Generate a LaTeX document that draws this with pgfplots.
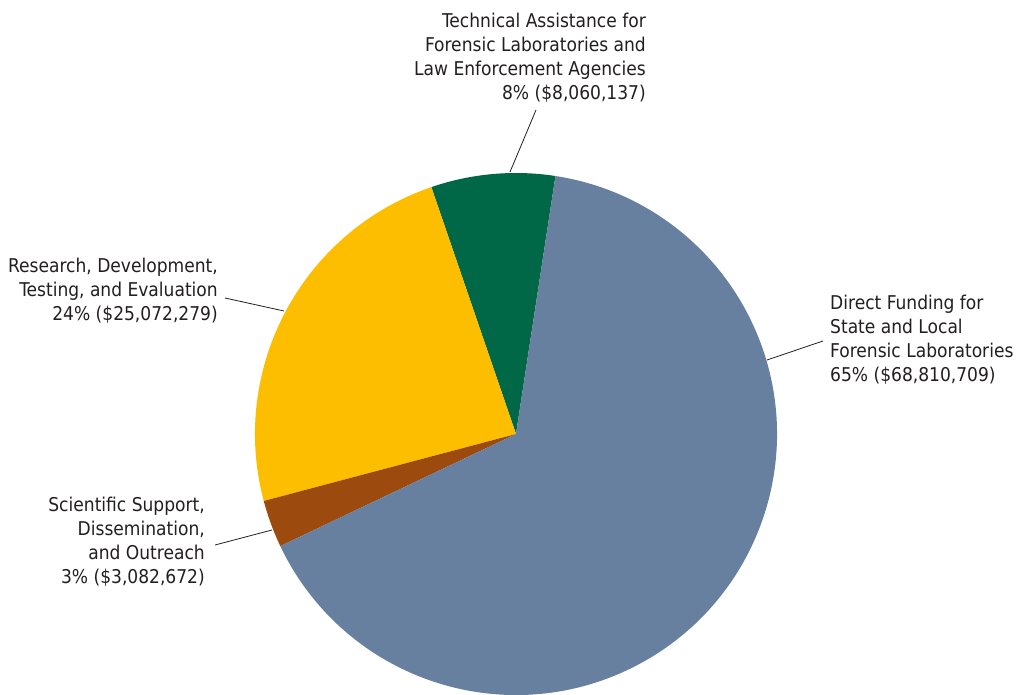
\documentclass[border=0pt]{standalone}
\usepackage{pgfplots}
\pgfplotsset{compat=1.18}
\usepackage{pgfplotstable}
\usepackage{fontspec}
\setmainfont{DejaVu Sans Condensed}

\definecolor{cDirect}{HTML}{6780A0}
\definecolor{cTech}{HTML}{006747}
\definecolor{cRes}{HTML}{FDBE00}
\definecolor{cSci}{HTML}{9C4A0E}
\definecolor{txt}{HTML}{231F20}

% funding in millions of dollars
\pgfplotstableread{
name value
Direct 68.810709
Tech 8.060137
Research 25.072279
Sci 3.082672
}\fundtable

\pgfplotstablegetelem{0}{value}\of\fundtable\let\vD\pgfplotsretval
\pgfplotstablegetelem{1}{value}\of\fundtable\let\vT\pgfplotsretval
\pgfplotstablegetelem{2}{value}\of\fundtable\let\vR\pgfplotsretval
\pgfplotstablegetelem{3}{value}\of\fundtable\let\vS\pgfplotsretval
\pgfmathsetmacro\tot{\vD+\vT+\vR+\vS}
\pgfmathsetmacro\aA{81.3}
\pgfmathsetmacro\aB{\aA+360*\vT/\tot}
\pgfmathsetmacro\aC{\aB+360*\vR/\tot}
\pgfmathsetmacro\aD{\aC+360*\vS/\tot}
\pgfmathsetmacro\aE{\aA+360}

\newcommand\labfont{\fontsize{19}{24}\selectfont}

\begin{document}
\begin{tikzpicture}[lab/.style={font=\labfont, text=txt, inner sep=0pt}]
\begin{axis}[
    hide axis,
    scale only axis,
    width=1018pt, height=694pt,
    xmin=0, xmax=1018, ymin=0, ymax=694,
    clip=false,
]
\coordinate (ll) at (axis cs:0,0);
\coordinate (ur) at (axis cs:1018,694);
\fill[cTech] (axis cs:516,260) -- ++(\aA:261pt) arc[start angle=\aA, end angle=\aB, radius=261pt] -- cycle;
\fill[cRes] (axis cs:516,260) -- ++(\aB:261pt) arc[start angle=\aB, end angle=\aC, radius=261pt] -- cycle;
\fill[cSci] (axis cs:516,260) -- ++(\aC:261pt) arc[start angle=\aC, end angle=\aD, radius=261pt] -- cycle;
\fill[cDirect] (axis cs:516,260) -- ++(\aD:261pt) arc[start angle=\aD, end angle=\aE, radius=261pt] -- cycle;

\draw[txt, line width=0.8pt] (axis cs:536,584) -- (axis cs:510,522);
\draw[txt, line width=0.8pt] (axis cs:225,396) -- (axis cs:284,383);
\draw[txt, line width=0.8pt] (axis cs:767,334) -- (axis cs:823,353);
\draw[txt, line width=0.8pt] (axis cs:215,149) -- (axis cs:272,164);

\node[lab, anchor=north east, align=right] at (axis cs:646,681)
  {Technical Assistance for\\Forensic Laboratories and\\Law Enforcement Agencies\\8\% (\$8,060,137)};
\node[lab, anchor=north east, align=right] at (axis cs:218,436)
  {Research, Development,\\Testing, and Evaluation\\24\% (\$25,072,279)};
\node[lab, anchor=north west, align=left] at (axis cs:830,399)
  {Direct Funding for\\State and Local\\Forensic Laboratories\\65\% (\$68,810,709)};
\node[lab, anchor=north east, align=right] at (axis cs:205,197)
  {Scientific Support,\\Dissemination,\\and Outreach\\3\% (\$3,082,672)};
\end{axis}
\pgfresetboundingbox
\path (ll) rectangle (ur);
\end{tikzpicture}
\end{document}
